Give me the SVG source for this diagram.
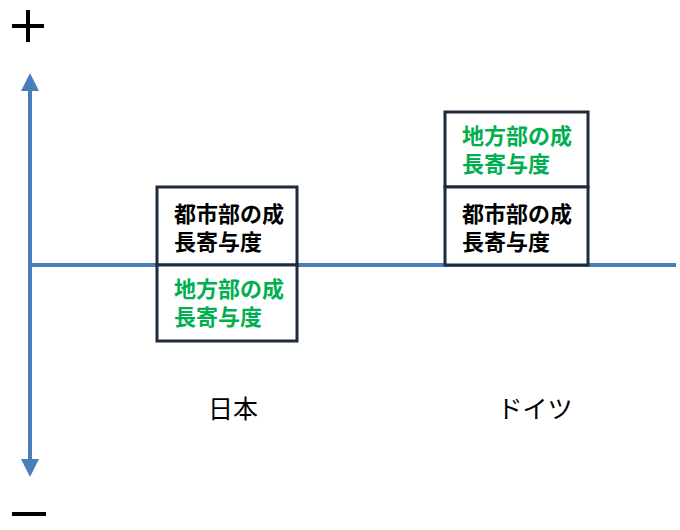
<svg xmlns="http://www.w3.org/2000/svg" width="680" height="530" viewBox="0 0 680 530">
<style>
.box{fill:#fff;stroke:#1f2a3c;stroke-width:3}
.t{font-family:"Liberation Sans","Noto Sans CJK JP",sans-serif;font-weight:bold;font-size:22px}
.k{fill:#000}.g{fill:#00b050}
.lab{font-family:"Liberation Sans","Noto Sans CJK JP",sans-serif;font-size:25px;fill:#000;text-anchor:middle}
.ax{stroke:#4a7ebb;stroke-width:4;fill:none}
</style>
<defs><marker id="ah" viewBox="0 0 10 10" refX="5" refY="5" markerWidth="4.5" markerHeight="4.5" orient="auto-start-reverse"><path d="M0,0L10,5L0,10z" fill="#4a7ebb"/></marker></defs>
<g id="signs">
<path d="M12,26H44M28,10V42" stroke="#000" stroke-width="4"/>
<path d="M12,514H46" stroke="#000" stroke-width="4"/>
</g>
<g id="connectors">
<line class="ax" x1="30" y1="82" x2="30" y2="468" marker-start="url(#ah)" marker-end="url(#ah)"/>
<line class="ax" x1="30" y1="265" x2="676" y2="265"/>
</g>
<g id="jp-top"><rect class="box" x="157" y="187" width="140" height="78"/><text class="t k" x="174" y="222">都市部の成</text><text class="t k" x="174" y="250">長寄与度</text></g>
<g id="jp-bottom"><rect class="box" x="157" y="265" width="140" height="76"/><text class="t g" x="174" y="297">地方部の成</text><text class="t g" x="174" y="325">長寄与度</text></g>
<g id="de-top"><rect class="box" x="445" y="112" width="143" height="75"/><text class="t g" x="462" y="144">地方部の成</text><text class="t g" x="462" y="172">長寄与度</text></g>
<g id="de-bottom"><rect class="box" x="445" y="187" width="143" height="78"/><text class="t k" x="462" y="222">都市部の成</text><text class="t k" x="462" y="250">長寄与度</text></g>
<text class="lab" x="233" y="418">日本</text>
<text class="lab" x="535" y="418">ドイツ</text>
</svg>
